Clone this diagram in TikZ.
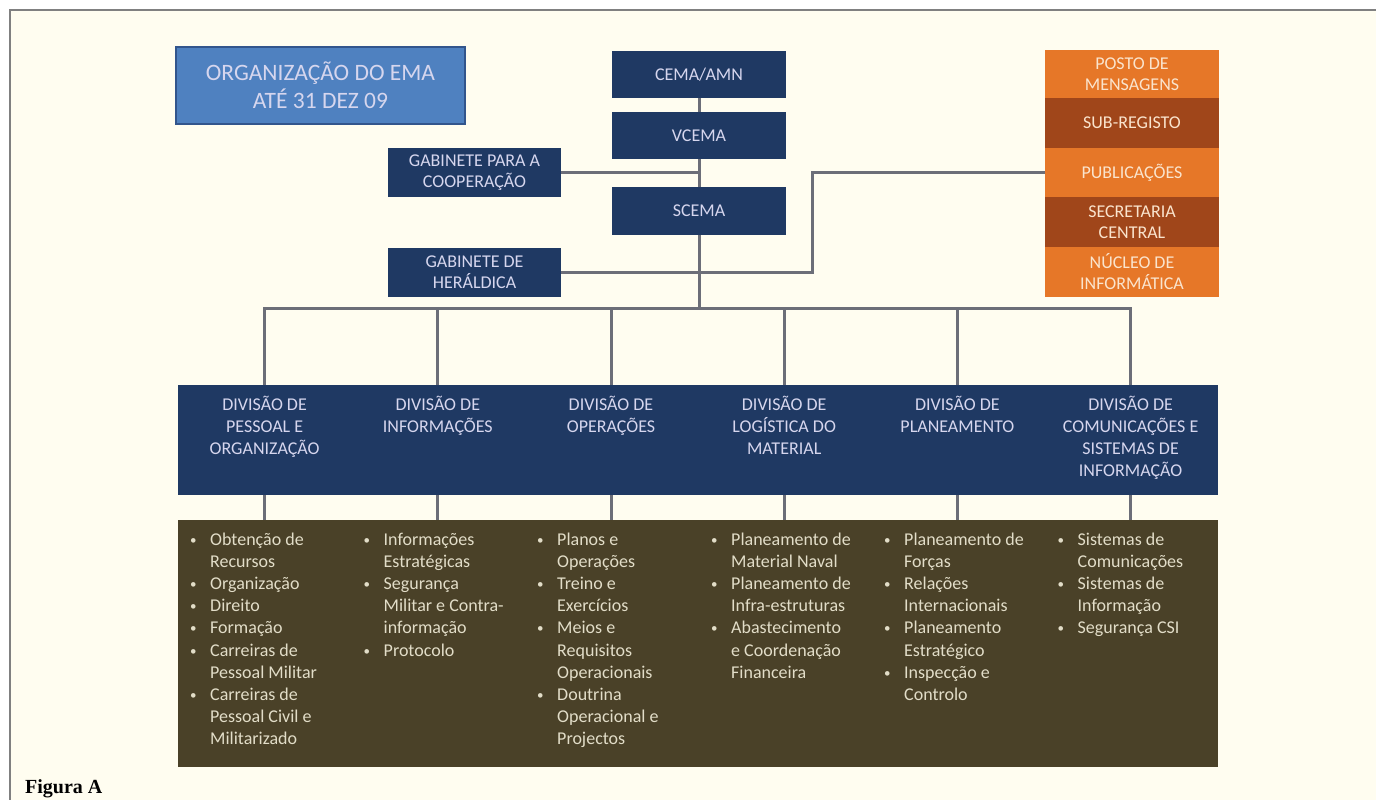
\documentclass[tikz,border=0pt]{standalone}
\usepackage{fontspec}
\setmainfont{Carlito}
\newfontfamily\figfont{Liberation Serif}
\usetikzlibrary{calc}
\definecolor{navy}{RGB}{31,57,99}
\definecolor{titleblue}{RGB}{79,129,192}
\definecolor{titleedge}{RGB}{50,85,140}
\definecolor{olive}{RGB}{74,65,40}
\definecolor{orlight}{RGB}{230,119,40}
\definecolor{ordark}{RGB}{160,70,26}
\definecolor{navytext}{RGB}{214,214,238}
\definecolor{listtext}{RGB}{226,221,200}
\definecolor{ortext}{RGB}{250,228,205}
\definecolor{connc}{RGB}{108,110,120}
\definecolor{cream}{RGB}{255,253,240}
\definecolor{framec}{RGB}{128,128,128}
\tikzset{
  conn/.style={draw=connc,line width=3pt},
  navybox/.style={fill=navy,draw=none,inner sep=0pt,text=navytext,align=center,
    minimum width=174pt,minimum height=48pt,font=\fontsize{18}{21}\selectfont},
  orbox/.style={draw=none,inner sep=0pt,text=ortext,align=center,
    minimum width=174pt,minimum height=50pt,font=\fontsize{18}{21}\selectfont},
  divbox/.style={fill=navy,draw=none,inner sep=0pt,minimum width=174pt,minimum height=110pt},
  listbox/.style={fill=olive,draw=none,inner sep=0pt,minimum width=174pt,minimum height=247pt},
  divtext/.style={inner sep=0pt,anchor=base,text=navytext,font=\fontsize{18}{22}\selectfont},
  listtext/.style={inner sep=0pt,anchor=base west,text=listtext,font=\fontsize{18}{22.2}\selectfont},
}
\newcommand{\bu}{\raisebox{1pt}{\fontsize{13}{13}\selectfont\textbullet}}
\begin{document}
\begin{tikzpicture}[x=1pt,y=-1pt]
\useasboundingbox (0,0) rectangle (1376,800);
\fill[white] (0,0) rectangle (1376,800);
\fill[cream] (10,10) rectangle (1376,800);
\draw[framec,line width=1.5pt] (10,800) -- (10,10) -- (1376,10);

% title
\node[fill=titleblue,draw=titleedge,line width=1.5pt,minimum width=289pt,minimum height=77pt,
  inner sep=0pt,align=center,text=navytext,font=\fontsize{23.5}{28}\selectfont]
  (title) at (320.5,85.5) {ORGANIZAÇÃO DO EMA\\ATÉ 31 DEZ 09};

% central chain
\node[navybox,minimum height=47pt] (cema) at (699,74.5) {CEMA/AMN};
\node[navybox,minimum height=47pt] (vcema) at (699,135.5) {VCEMA};
\node[navybox,minimum height=48pt] (scema) at (699,211) {SCEMA};
\node[navybox,minimum width=173pt,minimum height=49pt] (gcoop) at (474.5,172.5) {GABINETE PARA A\\COOPERAÇÃO};
\node[navybox,minimum width=173pt,minimum height=49pt] (gher) at (474.5,272.5) {GABINETE DE\\HERÁLDICA};

% orange stack
\node[orbox,fill=orlight,minimum height=48pt] (posto) at (1132,74) {POSTO DE\\MENSAGENS};
\node[orbox,fill=ordark] (subreg) at (1132,123) {SUB-REGISTO};
\node[orbox,fill=orlight,minimum height=49pt] (pub) at (1132,172.5) {PUBLICAÇÕES};
\node[orbox,fill=ordark] (secr) at (1132,222) {SECRETARIA\\CENTRAL};
\node[orbox,fill=orlight] (nucleo) at (1132,272) {NÚCLEO DE\\INFORMÁTICA};

% divisions and lists
\foreach \i in {1,...,6}{
  \pgfmathsetmacro{\cx}{178+173.2*(\i-0.5)}
  \node[divbox] (d\i) at (\cx,440) {};
  \node[listbox] (b\i) at (\cx,643.5) {};
}
\node[divtext] (t1) at (d1.north |- 0,410) {\begin{tabular}[t]{@{}c@{}}DIVISÃO DE\\PESSOAL E\\ORGANIZAÇÃO\end{tabular}};
\node[divtext] (t2) at (d2.north |- 0,410) {\begin{tabular}[t]{@{}c@{}}DIVISÃO DE\\INFORMAÇÕES\end{tabular}};
\node[divtext] (t3) at (d3.north |- 0,410) {\begin{tabular}[t]{@{}c@{}}DIVISÃO DE\\OPERAÇÕES\end{tabular}};
\node[divtext] (t4) at (d4.north |- 0,410) {\begin{tabular}[t]{@{}c@{}}DIVISÃO DE\\LOGÍSTICA DO\\MATERIAL\end{tabular}};
\node[divtext] (t5) at (d5.north |- 0,410) {\begin{tabular}[t]{@{}c@{}}DIVISÃO DE\\PLANEAMENTO\end{tabular}};
\node[divtext] (t6) at (d6.north |- 0,410) {\begin{tabular}[t]{@{}c@{}}DIVISÃO DE\\COMUNICAÇÕES E\\SISTEMAS DE\\INFORMAÇÃO\end{tabular}};

\node[listtext] (l1) at (190,545) {\begin{tabular}[t]{@{}p{20pt}@{}l@{}}
\bu & Obtenção de\\ & Recursos\\ \bu & Organização\\ \bu & Direito\\ \bu & Formação\\
\bu & Carreiras de\\ & Pessoal Militar\\ \bu & Carreiras de\\ & Pessoal Civil e\\ & Militarizado\end{tabular}};
\node[listtext] (l2) at (363.5,545) {\begin{tabular}[t]{@{}p{20pt}@{}l@{}}
\bu & Informações\\ & Estratégicas\\ \bu & Segurança\\ & Militar e Contra-\\ & informação\\ \bu & Protocolo\end{tabular}};
\node[listtext] (l3) at (537,545) {\begin{tabular}[t]{@{}p{20pt}@{}l@{}}
\bu & Planos e\\ & Operações\\ \bu & Treino e\\ & Exercícios\\ \bu & Meios e\\ & Requisitos\\ & Operacionais\\
\bu & Doutrina\\ & Operacional e\\ & Projectos\end{tabular}};
\node[listtext] (l4) at (711,545) {\begin{tabular}[t]{@{}p{20pt}@{}l@{}}
\bu & Planeamento de\\ & Material Naval\\ \bu & Planeamento de\\ & Infra-estruturas\\ \bu & Abastecimento\\ & e Coordenação\\ & Financeira\end{tabular}};
\node[listtext] (l5) at (884,545) {\begin{tabular}[t]{@{}p{20pt}@{}l@{}}
\bu & Planeamento de\\ & Forças\\ \bu & Relações\\ & Internacionais\\ \bu & Planeamento\\ & Estratégico\\ \bu & Inspecção e\\ & Controlo\end{tabular}};
\node[listtext] (l6) at (1057.5,545) {\begin{tabular}[t]{@{}p{20pt}@{}l@{}}
\bu & Sistemas de\\ & Comunicações\\ \bu & Sistemas de\\ & Informação\\ \bu & Segurança CSI\end{tabular}};

% connectors
\coordinate (busline) at (0,308);
\coordinate (jog) at (812,272.5);
\draw[conn] (cema.south) -- (vcema.north);
\draw[conn] (vcema.south) -- (scema.north);
\draw[conn] (scema.south) -- (scema.south |- busline);
\draw[conn] (gcoop.east) -- (gcoop.east -| vcema.south);
\draw[conn] (gher.east) -- (jog) |- (pub.west);
\draw[conn,line cap=rect] (d1.north |- busline) -- (d6.north |- busline);
\foreach \i in {1,...,6}{
  \draw[conn] (d\i.north |- busline) -- (d\i.north);
  \draw[conn] (d\i.south) -- (b\i.north);
}

\node[anchor=base west,inner sep=0pt,font=\figfont\bfseries\fontsize{20}{24}\selectfont] (fig) at (25,793) {Figura A};
\end{tikzpicture}
\end{document}
